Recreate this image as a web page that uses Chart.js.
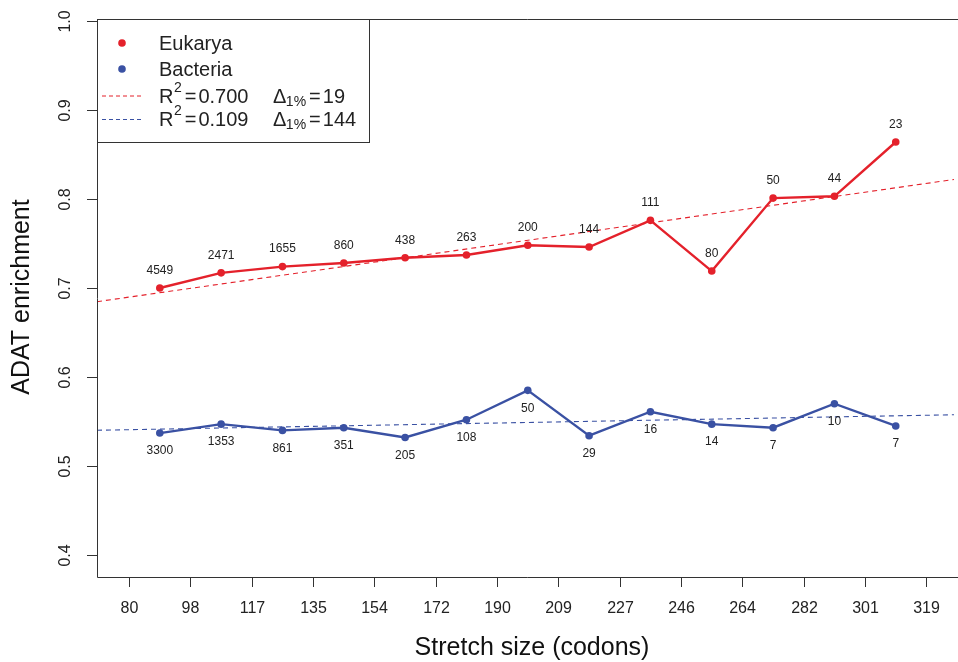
<!DOCTYPE html>
<html lang="en">
<head>
  <meta charset="UTF-8">
  <title>ADAT enrichment</title>
  <script src="https://cdn.jsdelivr.net/npm/chart.js"></script>
  <style>
    body {
      margin: 0;
      background: #fff;
    }
    #grafico {
      display: block;
    }
  </style>
</head>
<body>
  <canvas id="grafico" width="958" height="662"></canvas>

  <script>
    // tick labels sit on the bin edges, points at bin centres
    const tickLabels = ["80", "98", "117", "135", "154", "172", "190", "209", "227", "246", "264", "282", "301", "319"];
    const eukarya = [0.700, 0.717, 0.724, 0.728, 0.734, 0.737, 0.748, 0.746, 0.776, 0.719, 0.801, 0.803, 0.864];
    const bacteria = [0.537, 0.547, 0.540, 0.543, 0.532, 0.552, 0.585, 0.534, 0.561, 0.547, 0.543, 0.570, 0.545];
    const eukaryaCounts = [4549, 2471, 1655, 860, 438, 263, 200, 144, 111, 80, 50, 44, 23];
    const bacteriaCounts = [3300, 1353, 861, 351, 205, 108, 50, 29, 16, 14, 7, 10, 7];
    const yTicks = [0.4, 0.5, 0.6, 0.7, 0.8, 0.9, 1.0];
    const legendNames = ["Eukarya", "Bacteria"];
    const legendR2 = ["0.700", "0.109"];
    const legendDelta = ["19", "144"];

    const RED = "#e4212b";
    const BLUE = "#3a51a3";
    const INK = "#222";
    const FONT = "'Liberation Sans', Arial, sans-serif";

    const xMin = -0.524, xMax = 13.45;
    const yMin = 0.3753, yMax = 1.0022;

    function points(values) {
      return values.map((v, i) => ({ x: i + 0.5, y: v }));
    }

    // least squares line over the bin centres
    function trend(values) {
      const n = values.length;
      const xs = values.map((v, i) => i + 0.5);
      const mx = xs.reduce((a, b) => a + b, 0) / n;
      const my = values.reduce((a, b) => a + b, 0) / n;
      let sxy = 0, sxx = 0;
      xs.forEach((x, i) => { sxy += (x - mx) * (values[i] - my); sxx += (x - mx) * (x - mx); });
      const b = sxy / sxx, a = my - b * mx;
      return [{ x: xMin, y: a + b * xMin }, { x: xMax, y: a + b * xMax }];
    }

    const rPlot = {
      id: "rPlot",
      afterDatasetsDraw(chart) {
        const ctx = chart.ctx;
        const area = chart.chartArea;
        const xs = chart.scales.x, ys = chart.scales.y;
        ctx.save();

        // counts next to the points
        ctx.fillStyle = INK;
        ctx.font = "12px " + FONT;
        ctx.textAlign = "center";
        ctx.textBaseline = "middle";
        eukarya.forEach((v, i) => {
          ctx.fillText(String(eukaryaCounts[i]), xs.getPixelForValue(i + 0.5), ys.getPixelForValue(v) - 17.5);
        });
        bacteria.forEach((v, i) => {
          ctx.fillText(String(bacteriaCounts[i]), xs.getPixelForValue(i + 0.5), ys.getPixelForValue(v) + 18);
        });

        // box (right side runs off the canvas)
        ctx.strokeStyle = "#333";
        ctx.lineWidth = 1;
        ctx.beginPath();
        ctx.moveTo(958, area.top + 0.5);
        ctx.lineTo(area.left + 0.5, area.top + 0.5);
        ctx.lineTo(area.left + 0.5, area.bottom + 0.5);
        ctx.lineTo(958, area.bottom + 0.5);
        ctx.stroke();

        // x ticks
        ctx.font = "16px " + FONT;
        tickLabels.forEach((lab, i) => {
          const px = Math.round(xs.getPixelForValue(i)) + 0.5;
          ctx.beginPath();
          ctx.moveTo(px, area.bottom);
          ctx.lineTo(px, area.bottom + 10);
          ctx.stroke();
          ctx.fillText(lab, px, 609);
        });

        // y ticks, labels rotated
        yTicks.forEach(v => {
          const py = Math.round(ys.getPixelForValue(v)) + 0.5;
          ctx.beginPath();
          ctx.moveTo(area.left - 10, py);
          ctx.lineTo(area.left, py);
          ctx.stroke();
          ctx.save();
          ctx.translate(66, py);
          ctx.rotate(-Math.PI / 2);
          ctx.fillText(v.toFixed(1), 0, 0);
          ctx.restore();
        });

        // axis titles
        ctx.font = "25px " + FONT;
        ctx.fillStyle = "#111";
        ctx.fillText("Stretch size (codons)", 532, 648);
        ctx.save();
        ctx.translate(22, 297);
        ctx.rotate(-Math.PI / 2);
        ctx.fillText("ADAT enrichment", 0, 0);
        ctx.restore();

        // legend
        ctx.fillStyle = "#fff";
        ctx.fillRect(area.left + 0.5, area.top + 0.5, 272, 123);
        ctx.strokeStyle = "#333";
        ctx.strokeRect(area.left + 0.5, area.top + 0.5, 272, 123);

        const colors = [RED, BLUE];
        ctx.textAlign = "left";
        ctx.fillStyle = INK;
        legendNames.forEach((name, k) => {
          const ly = 43 + k * 26;
          ctx.fillStyle = colors[k];
          ctx.beginPath();
          ctx.arc(122, ly, 3.8, 0, Math.PI * 2);
          ctx.fill();
          ctx.fillStyle = INK;
          ctx.font = "20px " + FONT;
          ctx.fillText(name, 159, ly + 1);
        });

        legendR2.forEach((r2, k) => {
          const ly = 96 + k * 23.5;
          ctx.strokeStyle = colors[k];
          ctx.lineWidth = 1;
          ctx.setLineDash([4, 3]);
          ctx.beginPath();
          ctx.moveTo(102, ly);
          ctx.lineTo(141, ly);
          ctx.stroke();
          ctx.setLineDash([]);

          ctx.fillStyle = INK;
          let cx = 159;
          ctx.font = "20px " + FONT;
          ctx.fillText("R", cx, ly + 1);
          cx += ctx.measureText("R").width + 0.5;
          ctx.font = "14px " + FONT;
          ctx.fillText("2", cx, ly - 8);
          cx += ctx.measureText("2").width + 3;
          ctx.font = "20px " + FONT;
          ctx.fillText("=", cx, ly + 1);
          cx += ctx.measureText("=").width + 2;
          ctx.fillText(r2, cx, ly + 1);

          cx = 273;
          ctx.fillText("\u0394", cx, ly + 1);
          cx += ctx.measureText("\u0394").width - 0.5;
          ctx.font = "14px " + FONT;
          ctx.fillText("1%", cx, ly + 6);
          cx += ctx.measureText("1%").width + 3;
          ctx.font = "20px " + FONT;
          ctx.fillText("=", cx, ly + 1);
          cx += ctx.measureText("=").width + 2;
          ctx.fillText(legendDelta[k], cx, ly + 1);
        });

        ctx.restore();
      }
    };

    const ctx = document.getElementById("grafico").getContext("2d");
    const chart = new Chart(ctx, {
      type: "line",
      data: {
        datasets: [
          { label: "Eukarya fit", data: trend(eukarya), borderColor: RED, borderWidth: 1.1, borderDash: [5, 4], pointRadius: 0 },
          { label: "Bacteria fit", data: trend(bacteria), borderColor: BLUE, borderWidth: 1.1, borderDash: [5, 4], pointRadius: 0 },
          { label: "Eukarya", data: points(eukarya), borderColor: RED, backgroundColor: RED, borderWidth: 2.4, pointRadius: 3.8, pointBorderWidth: 0 },
          { label: "Bacteria", data: points(bacteria), borderColor: BLUE, backgroundColor: BLUE, borderWidth: 2.4, pointRadius: 3.8, pointBorderWidth: 0 }
        ]
      },
      options: {
        responsive: false,
        animation: false,
        devicePixelRatio: 1,
        layout: { padding: { left: 97, top: 19, right: 0, bottom: 85 } },
        scales: {
          x: { type: "linear", min: xMin, max: xMax, display: false },
          y: { type: "linear", min: yMin, max: yMax, display: false }
        },
        plugins: {
          legend: { display: false },
          tooltip: { enabled: false }
        }
      },
      plugins: [rPlot]
    });
  </script>
</body>
</html>
